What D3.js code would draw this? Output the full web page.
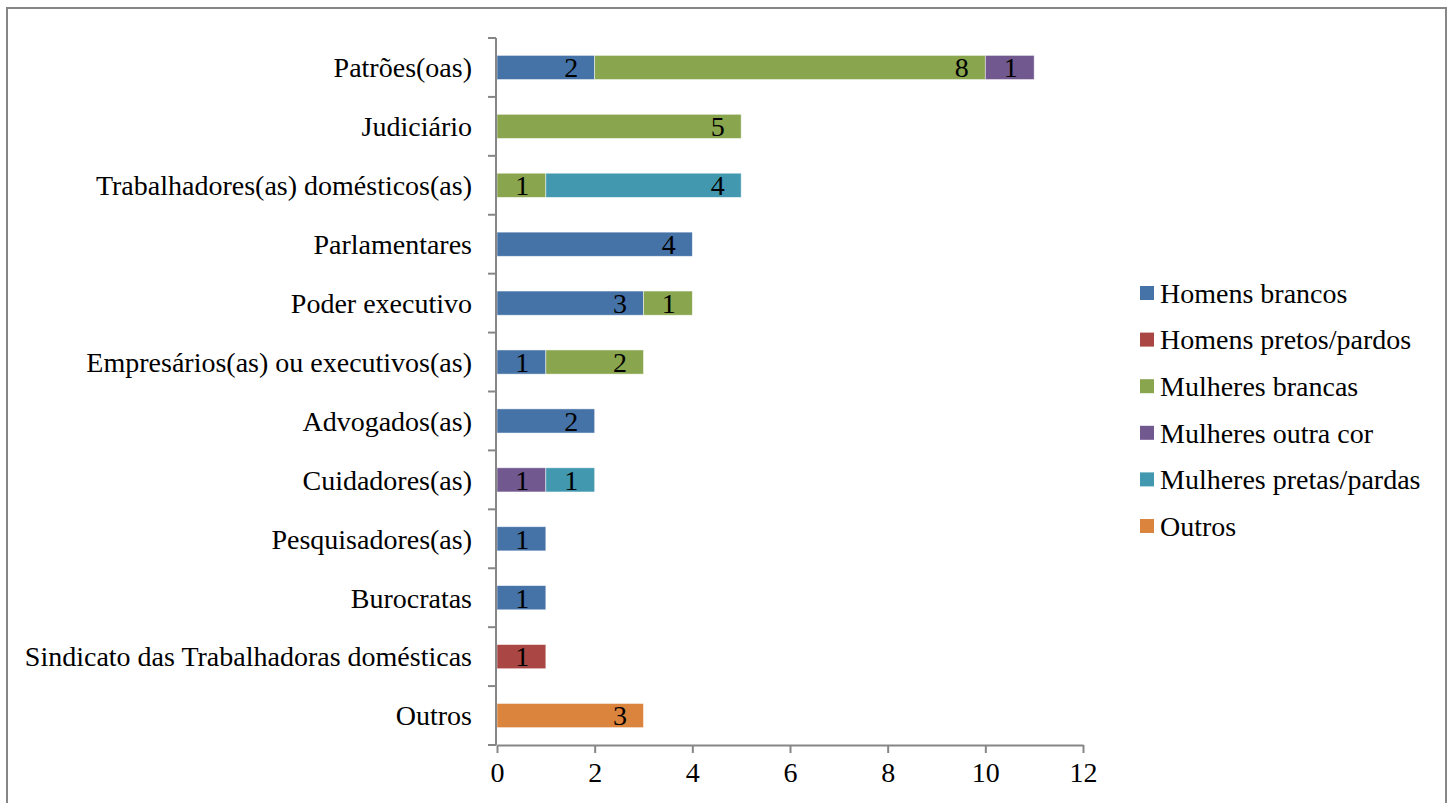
<!DOCTYPE html>
<html>
<head>
<meta charset="utf-8">
<script src="https://cdn.jsdelivr.net/npm/d3@7/dist/d3.min.js"></script>
<style>
  html, body { margin: 0; padding: 0; background: #fff; }
  svg { display: block; }
</style>
</head>
<body>
<svg id="chart" width="1448" height="803"></svg>
<script>
// Categories, top to bottom
const categories = [
  "Patrões(oas)",
  "Judiciário",
  "Trabalhadores(as) domésticos(as)",
  "Parlamentares",
  "Poder executivo",
  "Empresários(as) ou executivos(as)",
  "Advogados(as)",
  "Cuidadores(as)",
  "Pesquisadores(as)",
  "Burocratas",
  "Sindicato das Trabalhadoras domésticas",
  "Outros"
];

// Series names (stack order)
const seriesNames = [
  "Homens brancos",
  "Homens pretos/pardos",
  "Mulheres brancas",
  "Mulheres outra cor",
  "Mulheres pretas/pardas",
  "Outros"
];

// Values per series, aligned with categories
const homensBrancos       = [2, 0, 0, 4, 3, 1, 2, 0, 1, 1, 0, 0];
const homensPretosPardos  = [0, 0, 0, 0, 0, 0, 0, 0, 0, 0, 1, 0];
const mulheresBrancas     = [8, 5, 1, 0, 1, 2, 0, 0, 0, 0, 0, 0];
const mulheresOutraCor    = [1, 0, 0, 0, 0, 0, 0, 1, 0, 0, 0, 0];
const mulheresPretasPardas= [0, 0, 4, 0, 0, 0, 0, 1, 0, 0, 0, 0];
const outros              = [0, 0, 0, 0, 0, 0, 0, 0, 0, 0, 0, 3];

const xTicks = [0, 2, 4, 6, 8, 10, 12];

const seriesColors = ["#4572A7", "#AA4643", "#89A54E", "#71588F", "#4198AF", "#DB843D"];

const seriesValues = [homensBrancos, homensPretosPardos, mulheresBrancas,
                      mulheresOutraCor, mulheresPretasPardas, outros];

// Build table rows for d3.stack
const rows = categories.map((c, i) => {
  const r = { category: c };
  seriesNames.forEach((s, k) => { r[s] = seriesValues[k][i]; });
  return r;
});
const stacked = d3.stack().keys(seriesNames)(rows);

const svg = d3.select("#chart");
const fontFamily = "'Liberation Serif'";
const fontSize = 28;

// Outer frame
svg.append("rect")
  .attr("x", 7).attr("y", 8)
  .attr("width", 1439).attr("height", 810)
  .attr("fill", "#fff")
  .attr("stroke", "#868686")
  .attr("stroke-width", 2);

const plot = { left: 497, right: 1083, top: 38, bottom: 745 };

const x = d3.scaleLinear().domain([0, 12]).range([plot.left, plot.right]);
const y = d3.scaleBand().domain(categories).range([plot.top, plot.bottom]).padding(0);
const barH = y.bandwidth() * 0.41;
const color = d3.scaleOrdinal().domain(seriesNames).range(seriesColors);

// Bars
const layers = svg.append("g").selectAll("g")
  .data(stacked).join("g")
  .attr("fill", d => color(d.key));

layers.selectAll("rect")
  .data(d => d.filter(p => p[1] - p[0] > 0))
  .join("rect")
  .attr("x", p => x(p[0]))
  .attr("width", p => x(p[1]) - x(p[0]))
  .attr("y", p => y(p.data.category) + (y.bandwidth() - barH) / 2)
  .attr("height", barH)
  .attr("stroke", "#ffffff")
  .attr("stroke-opacity", 0.6)
  .attr("stroke-width", 0.8);

// Value labels, inside end of each segment
layers.selectAll("text")
  .data(d => d.filter(p => p[1] - p[0] > 0))
  .join("text")
  .attr("x", p => x(p[1]) - 23.5)
  .attr("y", p => y(p.data.category) + y.bandwidth() / 2)
  .attr("dy", "0.35em")
  .attr("text-anchor", "middle")
  .attr("font-family", fontFamily)
  .attr("font-size", fontSize)
  .attr("fill", "#000")
  .text(p => p[1] - p[0]);

// Y axis with ticks at category boundaries
const yAxisG = svg.append("g");
yAxisG.append("line")
  .attr("x1", plot.left - 1).attr("x2", plot.left - 1)
  .attr("y1", plot.top).attr("y2", plot.bottom)
  .attr("stroke", "#868686").attr("stroke-width", 2);
const boundaries = categories.map(c => y(c)).concat([plot.bottom]);
yAxisG.selectAll("line.tick")
  .data(boundaries).join("line")
  .attr("class", "tick")
  .attr("x1", plot.left - 9).attr("x2", plot.left - 1)
  .attr("y1", d => d).attr("y2", d => d)
  .attr("stroke", "#868686").attr("stroke-width", 2);
yAxisG.selectAll("text")
  .data(categories).join("text")
  .attr("x", plot.left - 25)
  .attr("y", c => y(c) + y.bandwidth() / 2)
  .attr("dy", "0.35em")
  .attr("text-anchor", "end")
  .attr("font-family", fontFamily)
  .attr("font-size", fontSize)
  .attr("fill", "#000")
  .text(c => c);

// X axis
const xAxis = d3.axisBottom(x).tickValues(xTicks).tickSize(8).tickSizeOuter(0);
const xAxisG = svg.append("g")
  .attr("transform", `translate(0,${plot.bottom})`)
  .call(xAxis)
  .attr("font-family", fontFamily)
  .attr("font-size", fontSize);
xAxisG.select(".domain").attr("stroke", "#868686").attr("stroke-width", 2);
xAxisG.selectAll(".tick line").attr("stroke", "#868686").attr("stroke-width", 2);
xAxisG.selectAll(".tick text")
  .attr("y", 17)
  .attr("fill", "#000");

// Legend
const legend = svg.append("g").attr("transform", "translate(1140,293)");
const legendRows = legend.selectAll("g")
  .data(seriesNames).join("g")
  .attr("transform", (d, i) => `translate(0,${i * 46.6})`);
legendRows.append("rect")
  .attr("x", 0).attr("y", -7)
  .attr("width", 14).attr("height", 14)
  .attr("fill", d => color(d));
legendRows.append("text")
  .attr("x", 20).attr("y", 0)
  .attr("dy", "0.35em")
  .attr("font-family", fontFamily)
  .attr("font-size", fontSize)
  .attr("fill", "#000")
  .text(d => d);
</script>
</body>
</html>
